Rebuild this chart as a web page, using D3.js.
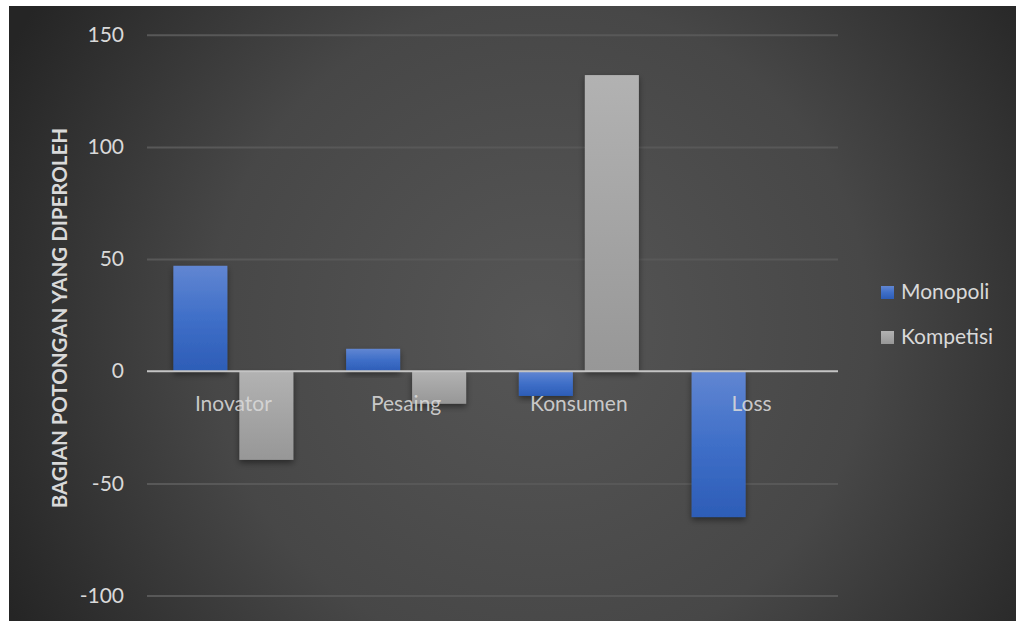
<!DOCTYPE html>
<html><head><meta charset="utf-8">
<script src="https://cdn.jsdelivr.net/npm/d3@7/dist/d3.min.js"></script>
<style>body{margin:0;background:#fff;}svg{display:block;}</style>
</head><body>
<script>
const categories = ["Inovator", "Pesaing", "Konsumen", "Loss"];
const seriesNames = ["Monopoli", "Kompetisi"];
const monopoli = [47, 10, -11, -65];
const kompetisi = [-39.5, -14.5, 132, 0];
const yTicks = [-100, -50, 0, 50, 100, 150];
const yTitle = "BAGIAN POTONGAN YANG DIPEROLEH";

const W = 1016, H = 621;
const svg = d3.select("body").append("svg").attr("width", W).attr("height", H);
const defs = svg.append("defs");

const bg = defs.append("radialGradient").attr("id","bg").attr("gradientUnits","userSpaceOnUse")
  .attr("cx",540).attr("cy",330).attr("r",600);
bg.append("stop").attr("offset","0").attr("stop-color","#565656");
bg.append("stop").attr("offset","0.55").attr("stop-color","#474747");
bg.append("stop").attr("offset","1").attr("stop-color","#252525");

const gBlue = defs.append("linearGradient").attr("id","gBlue").attr("x1",0).attr("y1",0).attr("x2",0).attr("y2",1);
gBlue.append("stop").attr("offset","0").attr("stop-color","#6186d2");
gBlue.append("stop").attr("offset","0.5").attr("stop-color","#3f6fc8");
gBlue.append("stop").attr("offset","1").attr("stop-color","#2d5db7");
const gGrey = defs.append("linearGradient").attr("id","gGrey").attr("x1",0).attr("y1",0).attr("x2",0).attr("y2",1);
gGrey.append("stop").attr("offset","0").attr("stop-color","#b2b2b2");
gGrey.append("stop").attr("offset","1").attr("stop-color","#979797");

const sh = defs.append("filter").attr("id","sh").attr("x","-30%").attr("y","-30%").attr("width","160%").attr("height","160%");
sh.append("feDropShadow").attr("dx",0).attr("dy",3).attr("stdDeviation",3).attr("flood-color","#000").attr("flood-opacity",0.45);

svg.append("rect").attr("x",9).attr("y",6).attr("width",W-9).attr("height",H-6).attr("fill","url(#bg)");

const plotL = 147, plotR = 838;
const y = d3.scaleLinear().domain([-100,150]).range([595.6, 34.7]);
const x0 = d3.scaleBand().domain(categories).range([plotL, plotR]).paddingInner(0).paddingOuter(0);
const groupW = 120;
const x1 = d3.scaleBand().domain(seriesNames).range([0, groupW]).paddingInner(12/66).paddingOuter(0);

// gridlines
const yAxis = d3.axisLeft(y).tickValues(yTicks).tickSize(-(plotR-plotL)).tickPadding(23).tickFormat(d => String(d));
const ga = svg.append("g").attr("transform",`translate(${plotL},0)`).call(yAxis);
ga.select(".domain").remove();
ga.selectAll(".tick line").attr("stroke", d => d===0 ? "none" : "#585858").attr("stroke-width",2);
ga.selectAll(".tick text").attr("fill","#d9d9d9").attr("font-family","Lato, 'Open Sans', sans-serif").attr("font-size","21px");

// bars
const colors = {Monopoli:"url(#gBlue)", Kompetisi:"url(#gGrey)"};
const data = categories.map((c,i)=>({cat:c, vals:[{s:"Monopoli",v:monopoli[i]},{s:"Kompetisi",v:kompetisi[i]}]}));
const groups = svg.append("g").selectAll("g").data(data).join("g")
  .attr("transform", d => `translate(${x0(d.cat) + (x0.bandwidth()-groupW)/2},0)`);
groups.selectAll("rect").data(d=>d.vals.filter(e=>e.v!==0)).join("rect")
  .attr("x", e=>x1(e.s)).attr("width", x1.bandwidth())
  .attr("y", e=>y(Math.max(0,e.v))).attr("height", e=>Math.abs(y(e.v)-y(0)))
  .attr("fill", e=>colors[e.s]).attr("filter","url(#sh)");

// zero line
svg.append("line").attr("x1",plotL).attr("x2",plotR).attr("y1",y(0)).attr("y2",y(0))
  .attr("stroke","#c4c4c4").attr("stroke-width",2);

// category labels
svg.append("g").selectAll("text").data(categories).join("text")
  .attr("x", d=>x0(d)+x0.bandwidth()/2).attr("y", y(0)+40)
  .attr("text-anchor","middle").attr("fill","#d9d9d9").attr("fill-opacity",0.9)
  .attr("font-family","Lato, 'Open Sans', sans-serif").attr("font-size","21px").text(d=>d);

// y title
svg.append("text").attr("transform",`translate(67,${(y(150)+y(-100))/2+3}) rotate(-90)`)
  .attr("text-anchor","middle").attr("fill","#d9d9d9").attr("font-weight","bold")
  .attr("font-family","Lato, 'Open Sans', sans-serif").attr("font-size","20.5px").text(yTitle);

// legend
const lg = svg.append("g").selectAll("g").data(seriesNames).join("g")
  .attr("transform",(d,i)=>`translate(881,${286 + i*45})`);
lg.append("rect").attr("width",13).attr("height",13).attr("fill",d=>colors[d]);
lg.append("text").attr("x",20).attr("y",13).attr("fill","#d9d9d9")
  .attr("font-family","Lato, 'Open Sans', sans-serif").attr("font-size","21px").text(d=>d);
</script>
</body></html>
